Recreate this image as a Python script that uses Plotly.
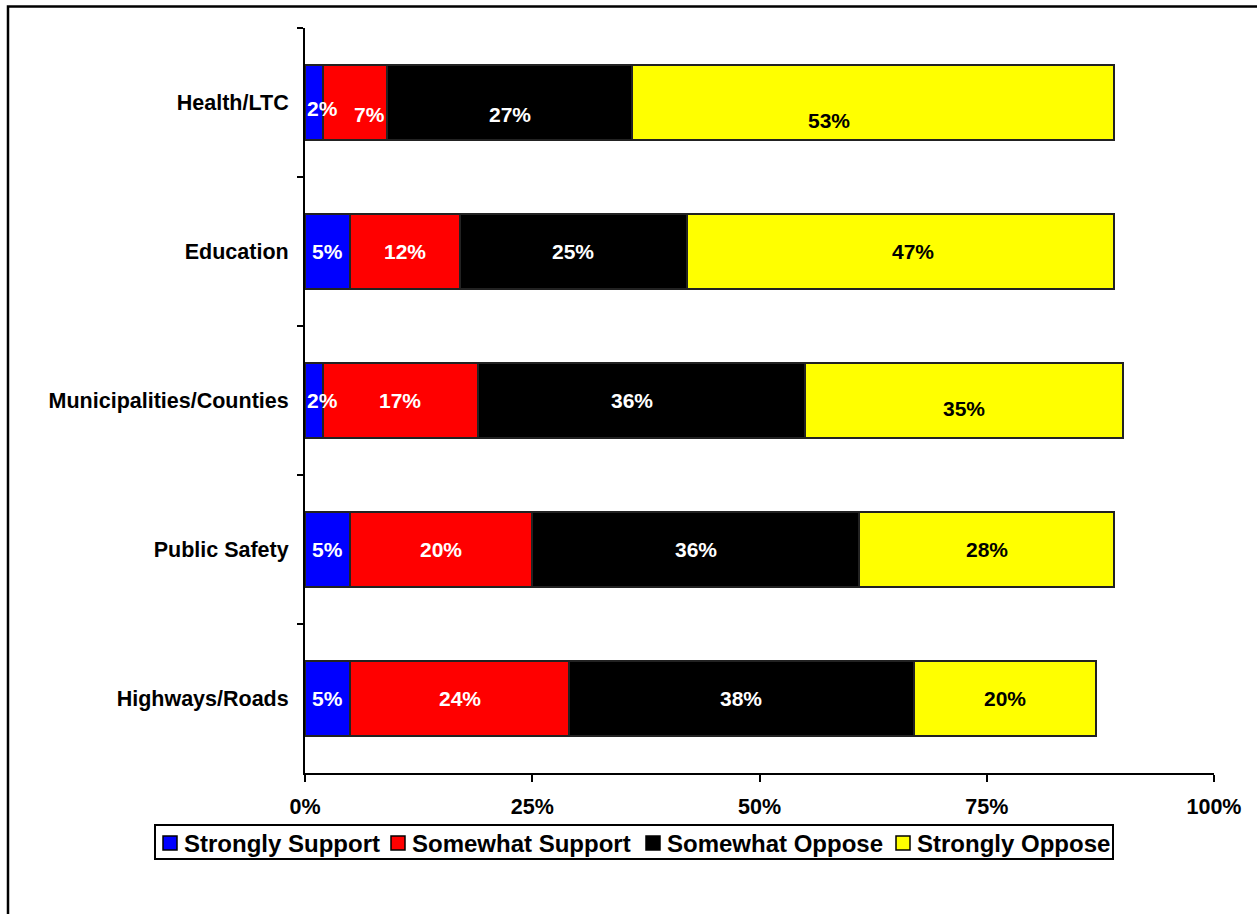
import plotly.graph_objects as go

# Survey categories (top to bottom) and response shares in percent
categories = ["Health/LTC", "Education", "Municipalities/Counties", "Public Safety", "Highways/Roads"]
series_names = ["Strongly Support", "Somewhat Support", "Somewhat Oppose", "Strongly Oppose"]
strongly_support = [2, 5, 2, 5, 5]
somewhat_support = [7, 12, 17, 20, 24]
somewhat_oppose = [27, 25, 36, 36, 38]
strongly_oppose = [53, 47, 35, 28, 20]
tick_values = [0, 0.25, 0.5, 0.75, 1.0]
tick_labels = ["0%", "25%", "50%", "75%", "100%"]

series_values = [strongly_support, somewhat_support, somewhat_oppose, strongly_oppose]
colors = ["#0000FF", "#FF0000", "#000000", "#FFFF00"]
label_colors = ["white", "white", "white", "black"]

# Hand-placed label nudges (pixels): (category index, series index) -> (dx, dy)
label_nudges = {
    (0, 0): (8, -6), (0, 1): (14, -12), (0, 2): (0, -12), (0, 3): (-44, -18),
    (1, 3): (13, 0),
    (2, 0): (8, 0), (2, 2): (-9, 0), (2, 3): (0, -8),
}

FONT = "Liberation Sans, Arial, sans-serif"

# Figure geometry in pixels
W, H = 1257, 914
PLOT_L, PLOT_R, PLOT_T, PLOT_B = 305, 1214, 28, 773


def px(x):
    return (x - PLOT_L) / (PLOT_R - PLOT_L)


def py(y):
    return (PLOT_B - y) / (PLOT_B - PLOT_T)


fig = go.Figure()
for name, vals, col in zip(series_names, series_values, colors):
    fig.add_trace(go.Bar(
        y=categories,
        x=[v / 100 for v in vals],
        name=name,
        orientation="h",
        marker=dict(color=col, line=dict(color="#222222", width=2)),
        width=0.5,
        hoverinfo="skip",
        showlegend=False,
    ))

annotations = []
for ci, cat in enumerate(categories):
    start = 0
    for si, vals in enumerate(series_values):
        v = vals[ci]
        dx, dy = label_nudges.get((ci, si), (0, 0))
        annotations.append(dict(
            x=(start + v / 2) / 100, y=cat, xref="x", yref="y",
            text=f"{v}%", showarrow=False,
            font=dict(family=FONT, size=21, color=label_colors[si], weight="bold"),
            xshift=dx, yshift=dy,
        ))
        start += v

# Outer chart frame
shapes = [dict(
    type="rect", xref="paper", yref="paper",
    x0=px(8), x1=px(1300), y0=py(960), y1=py(6.5),
    line=dict(color="black", width=2.5),
    fillcolor="rgba(0,0,0,0)", layer="below",
)]

# Legend box with swatches and labels
shapes.append(dict(
    type="rect", xref="paper", yref="paper",
    x0=px(155), x1=px(1113), y0=py(859), y1=py(825),
    line=dict(color="black", width=2), fillcolor="white",
))
swatch_x = [163, 391, 646, 896]
for sx, name, col in zip(swatch_x, series_names, colors):
    shapes.append(dict(
        type="rect", xref="paper", yref="paper",
        x0=px(sx), x1=px(sx + 14), y0=py(850), y1=py(836),
        line=dict(color="black", width=1.5), fillcolor=col,
    ))
    annotations.append(dict(
        x=px(sx + 19), y=py(843), xref="paper", yref="paper",
        xanchor="left", yanchor="middle", text=name, showarrow=False,
        font=dict(family=FONT, size=24, color="black", weight="bold"),
    ))

fig.update_layout(
    barmode="stack",
    width=W, height=H,
    margin=dict(l=PLOT_L, r=W - PLOT_R, t=PLOT_T, b=H - PLOT_B),
    paper_bgcolor="white",
    plot_bgcolor="white",
    font=dict(family=FONT, color="black"),
    annotations=annotations,
    shapes=shapes,
    showlegend=False,
)

fig.update_xaxes(
    range=[0, 1],
    tickvals=tick_values, ticktext=tick_labels,
    showgrid=False, zeroline=False,
    showline=True, linecolor="black", linewidth=2,
    ticks="outside", ticklen=7, tickwidth=2, tickcolor="black",
    tickfont=dict(family=FONT, size=21.5, color="black", weight="bold"),
    ticklabelstandoff=6,
)
fig.update_yaxes(
    categoryorder="array", categoryarray=categories,
    autorange="reversed",
    showgrid=False, zeroline=False,
    showline=True, linecolor="black", linewidth=2,
    ticks="outside", ticklen=6, tickwidth=2, tickcolor="black",
    tickson="boundaries",
    tickfont=dict(family=FONT, size=21.5, color="black", weight="bold"),
    ticklabelstandoff=10,
)

fig.write_html("out.html")
